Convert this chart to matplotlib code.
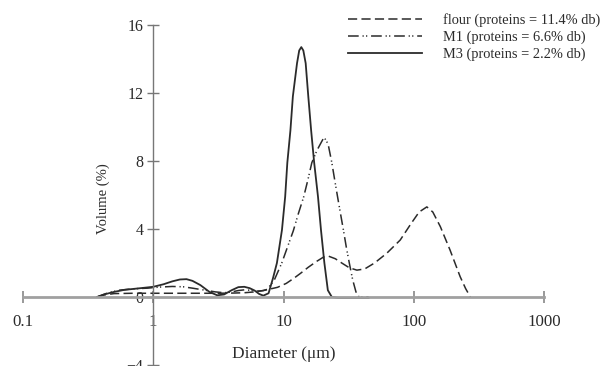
import matplotlib
matplotlib.use("Agg")
import matplotlib.pyplot as plt
from matplotlib.ticker import FixedLocator, FixedFormatter, NullLocator

plt.rcParams['font.family'] = ['Liberation Serif', 'DejaVu Serif']
plt.rcParams['axes.unicode_minus'] = True

# particle size distributions
flour_d = [0.37, 0.42, 0.5, 0.7, 1.0, 1.5, 2.0, 3.0, 4.0, 5.0, 6.0, 7.0, 8.0, 9.0,
           10.5, 12.0, 13.5, 15.5, 18.0, 20.3, 22.2, 25.0, 28.0, 32.0, 36.6, 42.0,
           50.0, 62.0, 78.7, 95.0, 110.0, 126.0, 140.0, 160.0, 190.0, 227.0, 250.0, 272.0]
flour_v = [0.0, 0.12, 0.2, 0.22, 0.22, 0.22, 0.22, 0.22, 0.23, 0.25, 0.3, 0.38, 0.48, 0.57,
           0.8, 1.1, 1.39, 1.75, 2.1, 2.35, 2.4, 2.25, 2.0, 1.72, 1.58, 1.65,
           2.0, 2.57, 3.35, 4.3, 5.0, 5.3, 5.0, 4.14, 2.76, 1.2, 0.5, 0.0]

m1_d = [0.37, 0.45, 0.55, 0.7, 0.9, 1.1, 1.4, 1.7, 2.0, 2.5, 3.0, 3.5, 4.0, 4.5, 5.0,
        5.5, 6.0, 6.5, 7.0, 7.5, 8.5, 9.7, 10.8, 11.9, 13.0, 14.3, 15.4, 16.5, 18.0,
        19.5, 20.5, 22.0, 23.5, 24.7, 26.0, 27.4, 28.9, 30.4, 32.0, 34.0, 36.0, 38.0, 45.0]
m1_v = [0.0, 0.25, 0.4, 0.48, 0.52, 0.58, 0.62, 0.6, 0.52, 0.4, 0.3, 0.25, 0.3, 0.38, 0.42,
        0.4, 0.35, 0.35, 0.38, 0.45, 1.0, 2.0, 3.0, 3.9, 4.9, 5.9, 6.9, 7.9, 8.6,
        9.1, 9.4, 9.0, 7.9, 6.9, 5.9, 4.9, 3.9, 2.9, 2.0, 1.0, 0.3, 0.0, 0.0]

m3_d = [0.37, 0.42, 0.5, 0.6, 0.8, 1.0, 1.2, 1.4, 1.6, 1.8, 2.0, 2.3, 2.7, 3.1, 3.5,
        4.0, 4.5, 5.0, 5.5, 6.0, 6.5, 7.0, 7.68, 8.3, 8.9, 9.73, 10.3, 10.7, 11.3, 11.8,
        12.7, 13.2, 13.7, 14.2, 14.8, 15.5, 16.3, 17.2, 18.4, 19.4, 20.6, 21.9, 23.5, 26.0, 45.0]
m3_v = [0.0, 0.15, 0.3, 0.42, 0.52, 0.6, 0.75, 0.92, 1.03, 1.05, 0.95, 0.7, 0.3, 0.1, 0.15,
        0.4, 0.58, 0.6, 0.52, 0.38, 0.18, 0.08, 0.22, 1.1, 2.0, 3.94, 5.9, 7.9, 9.8, 11.8,
        13.75, 14.5, 14.7, 14.5, 13.75, 11.8, 9.8, 7.9, 5.9, 3.94, 2.0, 0.4, 0.0, -0.05, -0.05]

labels = ['flour (proteins = 11.4% db)', 'M1 (proteins = 6.6% db)', 'M3 (proteins = 2.2% db)']
x_ticks = [0.1, 1, 10, 100, 1000]
x_ticklabels = ['0.1', '1', '10', '100', '1000']
y_ticks = [-4, 0, 4, 8, 12, 16]

ink = '#2b2b2b'
fig = plt.figure(figsize=(6.03, 3.66), dpi=100)
ax = fig.add_axes([23 / 603, 1 / 366, 521 / 603, 340 / 366])

ax.plot(flour_d, flour_v, color=ink, lw=1.1, linestyle=(0, (6, 2.8)), label=labels[0])
ax.plot(m1_d, m1_v, color=ink, lw=1.1, linestyle=(0, (7, 2.5, 0.8, 1.5, 0.8, 2.5)), label=labels[1])
ax.plot(m3_d, m3_v, color=ink, lw=1.3, linestyle='-', label=labels[2])

ax.set_xscale('log')
ax.set_xlim(0.1, 1000)
ax.set_ylim(-4, 16)

# axes cross at (1, 0)
ax.spines['left'].set_position(('data', 1))
ax.spines['bottom'].set_position(('data', 0))
ax.spines['right'].set_visible(False)
ax.spines['top'].set_visible(False)
ax.spines['left'].set_color('#777777')
ax.spines['left'].set_linewidth(1.0)
ax.spines['bottom'].set_color('#a0a0a0')
ax.spines['bottom'].set_linewidth(2.0)

ax.xaxis.set_major_locator(FixedLocator(x_ticks))
ax.xaxis.set_major_formatter(FixedFormatter(x_ticklabels))
ax.xaxis.set_minor_locator(NullLocator())
ax.set_yticks(y_ticks)

ax.tick_params(axis='x', direction='inout', length=8, width=1.2, color='#888888',
               labelsize=12.2, labelcolor=ink, pad=8)
ax.tick_params(axis='y', direction='inout', length=8, width=1.0, color='#777777',
               labelsize=11.5, labelcolor=ink, pad=3)

ax.set_xlabel('Diameter (\u03bcm)', fontsize=12.5, color=ink, va='center')
ax.xaxis.set_label_coords(0.5, 11 / 340)
ax.set_ylabel('Volume (%)', fontsize=10.5, color=ink, va='center')
ax.yaxis.set_label_coords((103 - 23) / 521, (365 - 199) / 340)

leg = ax.legend(loc='upper left', bbox_to_anchor=(348 / 603, 1 - 13 / 366),
                bbox_transform=fig.transFigure, frameon=False, borderpad=0,
                borderaxespad=0, fontsize=10.4, handlelength=5.1, handletextpad=1.45,
                labelspacing=0.26)
for t in leg.get_texts():
    t.set_color(ink)

fig.savefig('out.png', dpi=100)
